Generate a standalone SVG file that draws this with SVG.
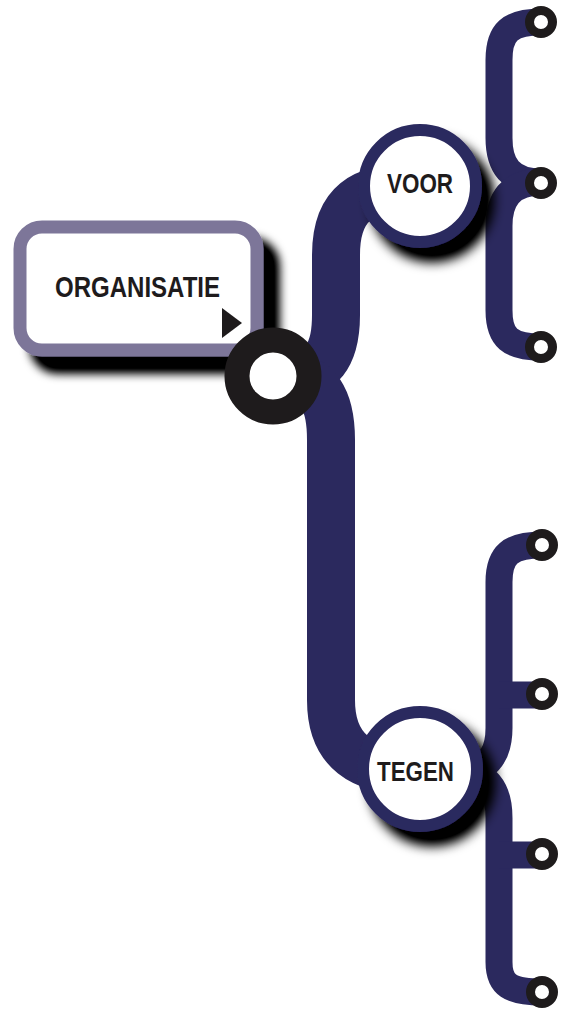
<svg xmlns="http://www.w3.org/2000/svg" width="563" height="1017" viewBox="0 0 563 1017">
<defs>
<filter id="sh" x="-30%" y="-30%" width="170%" height="170%">
<feGaussianBlur in="SourceAlpha" stdDeviation="6"/>
<feOffset dx="12" dy="14" result="b"/>
<feComponentTransfer in="b" result="c"><feFuncA type="linear" slope="1.15"/></feComponentTransfer>
<feMerge><feMergeNode in="c"/><feMergeNode in="SourceGraphic"/></feMerge>
</filter>
<filter id="shb" x="-30%" y="-30%" width="170%" height="170%">
<feGaussianBlur in="SourceAlpha" stdDeviation="5"/>
<feOffset dx="16" dy="17" result="b"/>
<feComponentTransfer in="b" result="c"><feFuncA type="linear" slope="1.15"/></feComponentTransfer>
<feMerge><feMergeNode in="c"/><feMergeNode in="SourceGraphic"/></feMerge>
</filter>
<style>
.trunk{fill:none;stroke:#2b295e;stroke-width:48;stroke-linecap:butt}
.br{fill:none;stroke:#2b295e;stroke-width:27;stroke-linecap:butt}
.end{fill:#fff;stroke:#1e1b1c;stroke-width:9}
.lbl{font-family:"Liberation Sans",Arial,sans-serif;font-weight:bold;fill:#1e1b1c}
.hub{fill:#fff;stroke:#2b295e;stroke-width:12}
</style>
</defs>
<rect width="563" height="1017" fill="#fff"/>
<g id="connectors">
<path class="trunk" d="M 285 376 C 322 376 336 355 336 315 L 336 255 C 336 205 360 186 420 186"/>
<path class="trunk" d="M 285 376 C 318 376 331 400 331 440 L 331 700 C 331 750 360 772 420 772"/>
<path class="br" d="M 541 22 C 510 22 499 32 499 60 L 499 138 C 499 165 510 182 541 182"/>
<path class="br" d="M 541 182 C 510 182 499 200 499 226 L 499 310 C 499 338 510 347 541 347"/>
<path class="br" d="M 542 545 C 510 545 499 555 499 582 L 499 728 C 499 752 490 766 470 772"/>
<path class="br" d="M 499 695 L 542 695"/>
<path class="br" d="M 470 772 C 490 778 499 792 499 818 L 499 962 C 499 985 510 992 542 992"/>
<path class="br" d="M 499 855 L 542 855"/>
</g>
<g id="organisatie">
<rect x="20" y="227" width="237" height="123" rx="22" fill="#fff" stroke="#7d7699" stroke-width="13" filter="url(#shb)"/>
<text class="lbl" x="55" y="297" font-size="30" textLength="165" lengthAdjust="spacingAndGlyphs">ORGANISATIE</text>
<polygon points="222,308 242,323 222,338" fill="#1e1b1c"/>
</g>
<g id="hub">
<circle cx="273" cy="376" r="36" fill="#fff" stroke="#1e1b1c" stroke-width="25"/>
</g>
<g id="voor">
<circle class="hub" cx="420" cy="186" r="56" filter="url(#sh)"/>
<text class="lbl" x="387" y="193" font-size="28" textLength="66" lengthAdjust="spacingAndGlyphs">VOOR</text>
</g>
<g id="tegen">
<circle class="hub" cx="420" cy="769" r="57" filter="url(#sh)"/>
<text class="lbl" x="377" y="781" font-size="28" textLength="77" lengthAdjust="spacingAndGlyphs">TEGEN</text>
</g>
<g id="ends">
<circle class="end" cx="541" cy="22" r="11.5"/>
<circle class="end" cx="541" cy="183" r="11.5"/>
<circle class="end" cx="541" cy="347" r="11.5"/>
<circle class="end" cx="542" cy="545" r="11.5"/>
<circle class="end" cx="542" cy="694" r="11.5"/>
<circle class="end" cx="542" cy="854" r="11.5"/>
<circle class="end" cx="542" cy="992" r="11.5"/>
</g>
</svg>
